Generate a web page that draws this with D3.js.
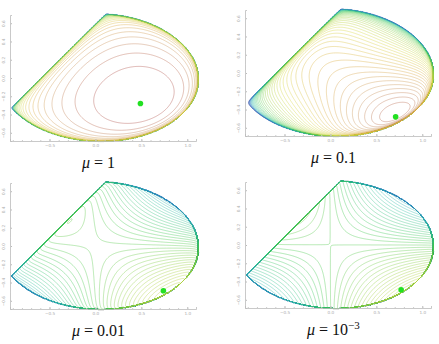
<!DOCTYPE html>
<html>
<head>
<meta charset="utf-8">
<script src="https://cdn.jsdelivr.net/npm/d3@7"></script>
<style>
  body { margin: 0; background: #fff; }
  .tick text { font-family: "DejaVu Sans", sans-serif; fill: #aaa; }
</style>
</head>
<body>
<script>
// barrier parameter of each panel and its label
var muValues = [1, 0.1, 0.01, 0.001];
var muLabels = ["1", "0.1", "0.01", "10^-3"];

// green point of each panel
var dotX = [0.49, 0.71, 0.74, 0.77];
var dotY = [-0.28, -0.48, -0.49, -0.49];

// curved edge of the feasible set
var edgeX = [0.043, 0.297, 0.551, 0.768, 0.931, 1.040, 1.087, 1.076, 1.004, 0.877, 0.659, 0.406, 0.098,
             -0.210, -0.464, -0.681, -0.826, -0.924];
var edgeY = [-0.685, -0.678, -0.641, -0.550, -0.423, -0.240, -0.022, 0.142, 0.324, 0.470, 0.579, 0.652, 0.689,
             -0.659, -0.604, -0.514, -0.423, -0.335];
// straight edge: y <= x + cutOffset
var cutOffset = 0.59;

var xTicks = [-0.5, 0, 0.5, 1];
var yTicks = [-0.6, -0.4, -0.2, 0, 0.2, 0.4, 0.6];

// contour levels: step above the minimum, and how many
var levelStep = [0.4, 0.03, 0.025, 0.025];
var levelCount = [24, 40, 44, 44];
// where each panel starts in the colour ramp
var colorStart = [0, 0.05, 0.5, 0.5];

var rampStops = [0, 0.12, 0.28, 0.42, 0.55, 0.7, 0.82, 0.92, 1];
var rampColors = ["#b0524a", "#c8905a", "#dcb040", "#d8d840", "#a8d040", "#40c850", "#30c0a8", "#2878c8", "#1c2c94"];
var ramp = d3.scaleLinear().domain(rampStops).range(rampColors).interpolate(d3.interpolateRgb);

var W = 439, H = 344;
var plotW = 186, plotH = 126;
var panelLeft = [10, 245, 10, 245];
var panelTop = [15, 10, 183, 182];

var svg = d3.select("body").append("svg")
  .attr("width", W)
  .attr("height", H);

// fit the conic a x^2 + b xy + c y^2 + d x + e y = 1 to the edge points
function solve(M, b) {
  var n = b.length;
  var A = M.map(function(r, i) { return r.concat([b[i]]); });
  for (var i = 0; i < n; i++) {
    var p = i;
    for (var r = i + 1; r < n; r++) if (Math.abs(A[r][i]) > Math.abs(A[p][i])) p = r;
    var t = A[i]; A[i] = A[p]; A[p] = t;
    for (var r = 0; r < n; r++) {
      if (r === i) continue;
      var f = A[r][i] / A[i][i];
      for (var c = i; c <= n; c++) A[r][c] -= f * A[i][c];
    }
  }
  return A.map(function(r, i) { return r[n] / r[i]; });
}

var M = d3.range(5).map(function() { return [0, 0, 0, 0, 0]; });
var rhs = [0, 0, 0, 0, 0];
edgeX.forEach(function(ex, k) {
  var ey = edgeY[k];
  var row = [ex * ex, ex * ey, ey * ey, ex, ey];
  for (var i = 0; i < 5; i++) {
    rhs[i] += row[i];
    for (var j = 0; j < 5; j++) M[i][j] += row[i] * row[j];
  }
});
var q = solve(M, rhs);

function field(px, py, mu) {
  var s1 = 1 - (q[0] * px * px + q[1] * px * py + q[2] * py * py + q[3] * px + q[4] * py);
  var s2 = px - py + cutOffset;
  if (s1 <= 0 || s2 <= 0) return null;
  return px * py - mu * (Math.log(s1) + Math.log(s2));
}

// sampling grid
var gStep = 0.5 / 92;
var gx0 = -1.0, gy0 = -0.75;
var nx = Math.ceil(2.15 / gStep), ny = Math.ceil(1.5 / gStep);

muValues.forEach(function(mu, p) {
  var x = d3.scaleLinear().domain([-0.93, 1.095]).range([0, plotW]);
  var y = d3.scaleLinear().domain([-0.69, 0.69]).range([plotH, 0]);

  var g = svg.append("g")
    .attr("transform", "translate(" + panelLeft[p] + "," + panelTop[p] + ")");

  // values (negated so that each level gives the closed set F <= level)
  var vals = new Float64Array(nx * ny);
  var fmin = Infinity;
  for (var j = 0; j < ny; j++) {
    for (var i = 0; i < nx; i++) {
      var v = field(gx0 + i * gStep, gy0 + j * gStep, mu);
      if (v === null) { vals[j * nx + i] = -1e3; continue; }
      if (v < fmin) fmin = v;
      vals[j * nx + i] = -v;
    }
  }

  var levels = d3.range(1, levelCount[p] + 1).map(function(k) { return fmin + k * levelStep[p]; });
  var colorOf = d3.scaleLinear()
    .domain([fmin + levelStep[p], fmin + levelCount[p] * levelStep[p]])
    .range([colorStart[p], 1]);

  // highest level comes first, so low levels are drawn on top
  var contours = d3.contours()
    .size([nx, ny])
    .thresholds(levels.map(function(l) { return -l; }).reverse())(vals);

  var proj = d3.geoTransform({
    point: function(u, v) {
      this.stream.point(x(gx0 + (u - 0.5) * gStep), y(gy0 + (v - 0.5) * gStep));
    }
  });
  var path = d3.geoPath(proj);

  g.selectAll("path.level")
    .data(contours)
    .enter()
    .append("path")
    .attr("class", "level")
    .attr("d", path)
    .attr("fill", "none")
    .attr("stroke", function(d) { return ramp(colorOf(-d.value)); })
    .attr("stroke-width", 0.6)
    .attr("stroke-opacity", 0.7);

  // frame: left and bottom axes
  var xAxis = g.append("g")
    .attr("transform", "translate(0," + plotH + ")")
    .call(d3.axisBottom(x).tickValues(xTicks).tickSize(-2).tickPadding(3)
      .tickFormat(d3.format(".1f")));
  xAxis.select(".domain").attr("stroke", "#bbb").attr("stroke-width", 0.8);
  xAxis.selectAll(".tick line").attr("stroke", "#bbb");
  xAxis.selectAll(".tick text").style("font-size", "4.2px");

  g.append("g")
    .attr("transform", "translate(0," + plotH + ")")
    .call(d3.axisBottom(x).tickValues(d3.range(-0.9, 1.09, 0.1)).tickSize(-1).tickFormat(""))
    .call(function(s) { s.select(".domain").remove(); s.selectAll("line").attr("stroke", "#ccc"); });

  var yAxis = g.append("g")
    .call(d3.axisLeft(y).tickValues(yTicks).tickSize(-2).tickPadding(3)
      .tickFormat(d3.format(".1f")));
  yAxis.select(".domain").attr("stroke", "#bbb").attr("stroke-width", 0.8);
  yAxis.selectAll(".tick line").attr("stroke", "#bbb");
  yAxis.selectAll(".tick text")
    .style("font-size", "4.2px")
    .attr("text-anchor", "middle")
    .attr("x", null).attr("dy", null)
    .attr("transform", "translate(-5,0) rotate(-90)");

  g.append("g")
    .call(d3.axisLeft(y).tickValues(d3.range(-0.6, 0.61, 0.1)).tickSize(-1).tickFormat(""))
    .call(function(s) { s.select(".domain").remove(); s.selectAll("line").attr("stroke", "#ccc"); });

  // point on the central path
  g.append("circle")
    .attr("cx", x(dotX[p]))
    .attr("cy", y(dotY[p]))
    .attr("r", 2.8)
    .attr("fill", "#22e022");

  // title
  var t = g.append("text")
    .attr("x", x(0) + 3)
    .attr("y", plotH + 27)
    .attr("text-anchor", "middle")
    .style("font-family", "'Liberation Serif', serif")
    .style("font-size", "16px")
    .attr("fill", "#111");
  t.append("tspan").style("font-style", "italic").text("μ");
  var parts = muLabels[p].split("^");
  t.append("tspan").text(" = " + parts[0]);
  if (parts.length > 1) {
    t.append("tspan").attr("dy", -6).style("font-size", "11px").text(parts[1].replace("-", "−"));
  }
});
</script>
</body>
</html>
